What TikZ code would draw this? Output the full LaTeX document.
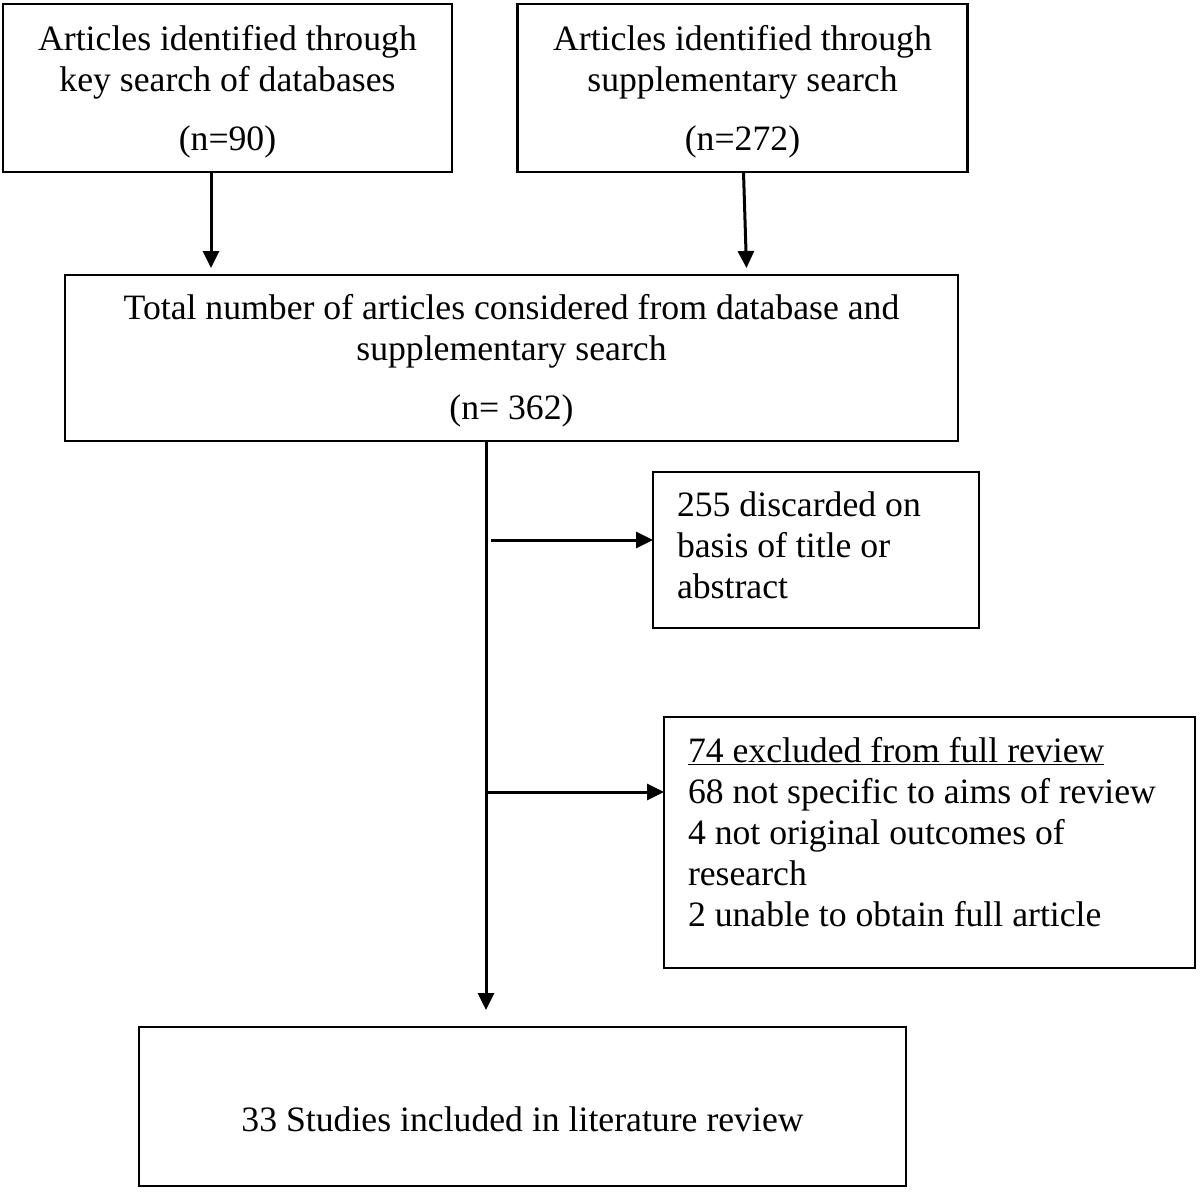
\documentclass[tikz,border=0pt]{standalone}
\usepackage{fontspec}
\setmainfont{Liberation Serif}
\usetikzlibrary{arrows.meta}
\begin{document}
\begin{tikzpicture}[x=1pt,y=-1pt,
  box/.style={draw=black,line width=2.6pt,rectangle,inner sep=0pt,outer sep=0pt},
  txt/.style={inner sep=0pt,outer sep=0pt,font=\fontsize{35.7}{41}\selectfont},
  conn/.style={line width=3pt,-{Triangle[length=17pt,width=16pt]}}]
\useasboundingbox (0,0) rectangle (1200,1192);
\fill[white] (0,0) rectangle (1200,1192);

% boxes
\node[box,minimum width=449pt,minimum height=168pt] (A) at (227.5,88) {};
\node[box,minimum width=450pt,minimum height=168pt] (B) at (742.5,88) {};
\node[box,minimum width=893pt,minimum height=166pt] (C) at (511.5,358) {};
\node[box,minimum width=326pt,minimum height=156pt] (D) at (816,550) {};
\node[box,minimum width=531pt,minimum height=251pt] (F) at (929.5,842.5) {};
\node[box,minimum width=767pt,minimum height=159pt] (E) at (522.5,1106.5) {};

% texts
\node[txt,anchor=base,text width=440pt,align=flush center] (At) at (227.5,50.7)
  {Articles identified through\\key search of databases\\[18pt](n=90)};
\node[txt,anchor=base,text width=440pt,align=flush center] (Bt) at (742.5,50.7)
  {Articles identified through\\supplementary search\\[18pt](n=272)};
\node[txt,anchor=base,text width=880pt,align=flush center] (Ct) at (511.5,319.3)
  {Total number of articles considered from database and\\supplementary search\\[18pt](n= 362)};
\node[txt,anchor=base west,text width=295pt,align=flush left] (Dt) at (677,516)
  {255 discarded on\\basis of title or\\abstract};
\node[txt,anchor=base west,text width=500pt,align=flush left] (Ft) at (688,762.7)
  {\underline{74 excluded from full review}\\68 not specific to aims of review\\4 not original outcomes of\\research\\2 unable to obtain full article};
\node[txt,anchor=base] (Et) at (522.5,1131) {33 Studies included in literature review};

% connector end points
\coordinate (a1) at (211,172);
\coordinate (a2) at (211,268);
\coordinate (b1) at (743.5,172);
\coordinate (b2) at (746.5,268);
\coordinate (c1) at (486,441);
\coordinate (c2) at (486,1010);
\coordinate (d1) at (491,540);
\coordinate (f1) at (486,792);

\draw[conn] (a1) -- (a2);
\draw[conn] (b1) -- (b2);
\draw[conn] (c1) -- (c2);
\draw[conn] (d1) -- (D.west |- d1);
\draw[conn] (f1) -- (F.west |- f1);
\end{tikzpicture}
\end{document}
